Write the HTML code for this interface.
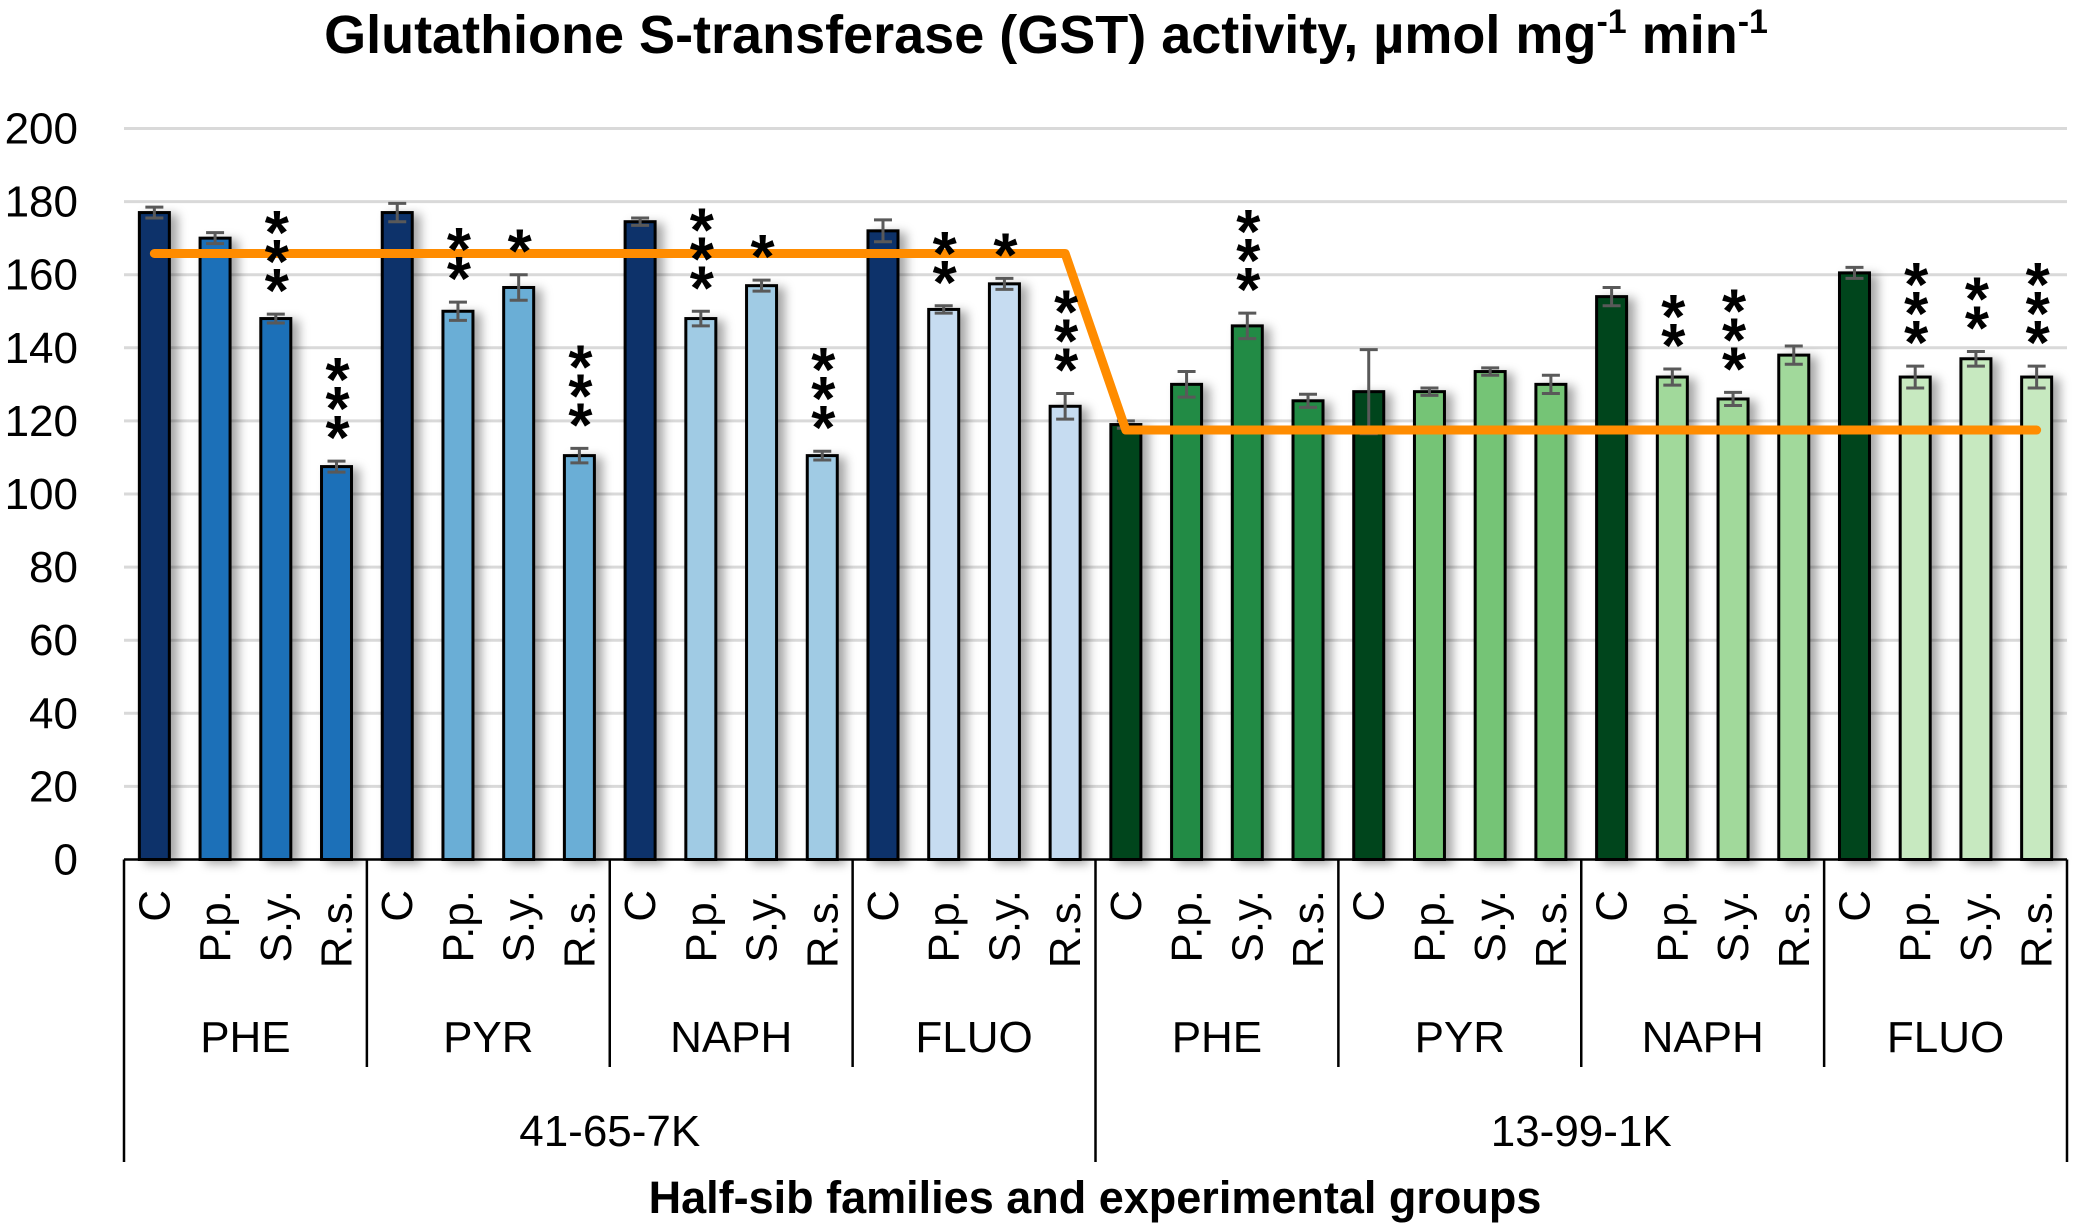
<!DOCTYPE html>
<html><head><meta charset="utf-8"><style>
html,body{margin:0;padding:0;background:#fff;}
svg{display:block;font-family:"Liberation Sans",sans-serif;}
</style></head><body>
<svg id="chart" width="2078" height="1230" viewBox="0 0 2078 1230">
<defs><filter id="sh" x="-50%" y="-20%" width="250%" height="150%"><feDropShadow dx="7" dy="3" stdDeviation="5" flood-color="#000" flood-opacity="0.35"/></filter></defs>
<text x="1046" y="53" text-anchor="middle" font-size="54" font-weight="bold">Glutathione S-transferase (GST) activity, µmol mg<tspan font-size="34" dy="-20">-1</tspan><tspan dy="20"> min</tspan><tspan font-size="34" dy="-20">-1</tspan></text>
<g id="grid"></g><g id="bars"></g><g id="errs"></g><g id="line"></g><g id="stars"></g><g id="axis"></g>
<text x="1095" y="1213" text-anchor="middle" font-size="45" font-weight="bold">Half-sib families and experimental groups</text>
</svg>
<script>
const families = ["41-65-7K", "13-99-1K"];
const groups = ["PHE", "PYR", "NAPH", "FLUO"];
const treatments = ["C", "P.p.", "S.y.", "R.s."];
const values = [177,170,148,107.5, 177,150,156.5,110.5, 174.5,148,157,110.5, 172,150.5,157.5,124,
                119,130,146,125.5, 128,128,133.5,130, 154,132,126,138, 160.5,132,137,132];
const errors = [1.5,1.5,1.2,1.5, 2.5,2.5,3.5,2, 1,2,1.5,1.2, 3,1,1.5,3.5,
                1,3.5,3.5,1.8, 11.5,1,1,2.5, 2.5,2.2,1.8,2.5, 1.5,3,2,3];
const stars = [0,0,3,3, 0,2,1,3, 0,3,1,3, 0,2,1,3,
               0,0,3,0, 0,0,0,0, 0,2,3,0, 0,3,2,3];
const lineValues = [165.8, 117.5];
const yTicks = [0,20,40,60,80,100,120,140,160,180,200];
const colors1 = ["#08306b","#1f70b8","#6baed6","#a0cbe4","#c6dcf1"];
const colors2 = ["#00441b","#238b45","#74c476","#a1d99b","#c7e9c0"];

const NS="http://www.w3.org/2000/svg";
const X0=124, X1=2067, Y0=859.5, K=3.655;
const cw=(X1-X0)/values.length;
const y=v=>Y0-v*K;
const xc=i=>X0+(i+0.5)*cw;
function mk(tag,attrs,parent,txt){const e=document.createElementNS(NS,tag);for(const k in attrs)e.setAttribute(k,attrs[k]);if(txt!==undefined)e.textContent=txt;document.getElementById(parent).appendChild(e);return e;}

yTicks.forEach(t=>{
  if(t>0){const g=mk('line',{x1:X0,x2:X1,y1:y(t),y2:y(t),stroke:'#d9d9d9','stroke-width':3},'grid');
  
  }
  const l=mk('text',{x:78,y:y(t)+15,'text-anchor':'end','font-size':44},'axis',String(t));
  
  
});

values.forEach((v,i)=>{
  const fam=Math.floor(i/16), tr=i%4, grp=Math.floor(i/4)%4;
  const pal=fam===0?colors1:colors2;
  const col=tr===0?pal[0]:pal[grp+1];
  const b=mk('rect',{x:xc(i)-15,y:y(v),width:30,height:Y0-y(v),fill:col,stroke:'#000','stroke-width':3,filter:'url(#sh)'},'bars');
  
  
  const e=errors[i];
  const eg=mk('path',{d:`M${xc(i)},${y(v+e)}V${y(v-e)}M${xc(i)-9},${y(v+e)}h18M${xc(i)-9},${y(v-e)}h18`,stroke:'#595959','stroke-width':3,fill:'none'},'errs');
  
  
  for(let s=0;s<stars[i];s++){
    const cy=y(v+e)-32-s*29;
    const st=mk('text',{x:xc(i)+1,y:cy+30,'text-anchor':'middle','font-size':62,'font-weight':'bold'},'stars','*');
    
    
  }
  const cl=mk('text',{transform:`translate(${xc(i)+15},890) rotate(-90)`,'text-anchor':'end','font-size':44},'axis',treatments[tr]);
  
  
});

const pl=mk('polyline',{points:`${xc(0)},${y(lineValues[0])} ${xc(15)},${y(lineValues[0])} ${xc(16)},${y(lineValues[1])} ${xc(31)},${y(lineValues[1])}`,fill:'none',stroke:'#ff8c00','stroke-width':9,'stroke-linejoin':'round','stroke-linecap':'round'},'line');



const ax=mk('line',{x1:X0,x2:X1,y1:Y0,y2:Y0,stroke:'#000','stroke-width':2.5},'axis');


for(let g=0;g<=8;g++){
  const x=X0+g*4*cw;
  const yb=(g%4===0)?1162:1067;
  const d=mk('line',{x1:x,x2:x,y1:Y0,y2:yb,stroke:'#000','stroke-width':2.5},'axis');
  
  
  if(g<8){
    const gl=mk('text',{x:x+2*cw,y:1052,'text-anchor':'middle','font-size':44},'axis',groups[g%4]);
    
    
  }
}
families.forEach((f,k)=>{
  const t=mk('text',{x:X0+(k*16+8)*cw,y:1146,'text-anchor':'middle','font-size':44},'axis',f);
  
  
});
</script>
</body></html>
